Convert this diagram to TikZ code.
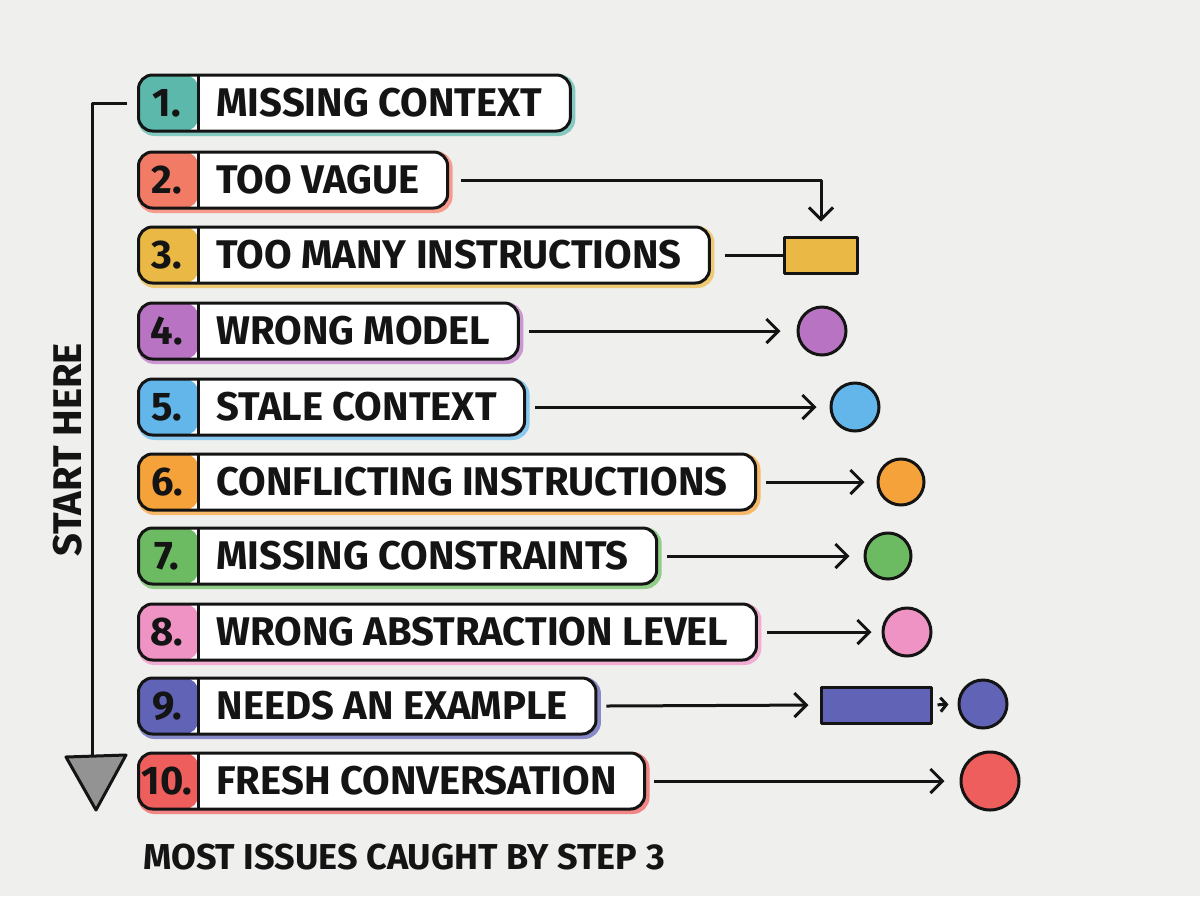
\documentclass[tikz,border=0pt]{standalone}
\usepackage{fontspec}
\setsansfont{Fira Sans}
\usepackage{xcolor}
\usepackage{tikz}
\usetikzlibrary{arrows.meta,positioning}

\definecolor{paper}{HTML}{EFEFED}
\definecolor{ink}{HTML}{141414}
\definecolor{cTeal}{HTML}{5DB8AC}
\definecolor{cSalmon}{HTML}{F27B66}
\definecolor{cMustard}{HTML}{E9B845}
\definecolor{cPurple}{HTML}{B874C2}
\definecolor{cSky}{HTML}{62B6EA}
\definecolor{cOrange}{HTML}{F5A23A}
\definecolor{cGreen}{HTML}{6CBB62}
\definecolor{cPink}{HTML}{EE93C3}
\definecolor{cIndigo}{HTML}{6163B6}
\definecolor{cRed}{HTML}{EE5E5C}

\newcommand{\rowfont}{\sffamily\bfseries\fontsize{20}{24}\selectfont}
\newcommand{\notefont}{\sffamily\bfseries\fontsize{18}{22}\selectfont}

\tikzset{
  issue/.style={draw=ink, line width=1.5pt, rounded corners=7pt, fill=white,
    anchor=west, minimum height=28pt, inner xsep=14pt, inner ysep=0pt,
    font=\rowfont, text=ink,
    preaction={draw=#1!75, line width=3pt, transform canvas={shift={(1pt,-1pt)}}},
    path picture={
      \fill[#1] (path picture bounding box.south west) rectangle ([xshift=30pt]path picture bounding box.north west);
      \draw[ink,line width=1.2pt] ([xshift=30pt]path picture bounding box.south west) -- ([xshift=30pt]path picture bounding box.north west);
    }},
  num/.style={font=\rowfont, text=ink, inner sep=0pt},
  dot/.style={circle, draw=ink, line width=1.5pt, fill=#1, inner sep=0pt},
  slab/.style={rectangle, draw=ink, line width=1.5pt, fill=#1, inner sep=0pt},
  conn/.style={draw=ink, line width=1.5pt},
}

\begin{document}
\begin{tikzpicture}[x=0.5pt,y=-0.5pt,>={Straight Barb[length=6pt,width=12pt]},line join=round]
  \fill[paper] (0,0) rectangle (1200,896);
  \useasboundingbox (0,0) rectangle (1200,896);

  % issue boxes
  \node[issue=cTeal] (b1) at (137,103) {\hspace*{25pt}MISSING CONTEXT};
  \node[issue=cSalmon] (b2) at (137,180) {\hspace*{25pt}TOO VAGUE};
  \node[issue=cMustard] (b3) at (137,255) {\hspace*{25pt}TOO MANY INSTRUCTIONS};
  \node[issue=cPurple] (b4) at (137,331) {\hspace*{25pt}WRONG MODEL};
  \node[issue=cSky] (b5) at (137,407) {\hspace*{25pt}STALE CONTEXT};
  \node[issue=cOrange] (b6) at (137,482) {\hspace*{25pt}CONFLICTING INSTRUCTIONS};
  \node[issue=cGreen] (b7) at (137,556) {\hspace*{25pt}MISSING CONSTRAINTS};
  \node[issue=cPink] (b8) at (137,632) {\hspace*{25pt}WRONG ABSTRACTION LEVEL};
  \node[issue=cIndigo] (b9) at (137,706) {\hspace*{25pt}NEEDS AN EXAMPLE};
  \node[issue=cRed] (b10) at (137,781) {\hspace*{25pt}FRESH CONVERSATION};

  \node[num] (k1) at ([xshift=15pt]b1.west) {1.};
  \node[num] (k2) at ([xshift=15pt]b2.west) {2.};
  \node[num] (k3) at ([xshift=15pt]b3.west) {3.};
  \node[num] (k4) at ([xshift=15pt]b4.west) {4.};
  \node[num] (k5) at ([xshift=15pt]b5.west) {5.};
  \node[num] (k6) at ([xshift=15pt]b6.west) {6.};
  \node[num] (k7) at ([xshift=15pt]b7.west) {7.};
  \node[num] (k8) at ([xshift=15pt]b8.west) {8.};
  \node[num] (k9) at ([xshift=15pt]b9.west) {9.};
  \node[num] (k10) at ([xshift=15pt]b10.west) {10.};

  % targets
  \node[slab=cMustard, minimum width=36.5pt, minimum height=18pt] (r3) at (821,255) {};
  \node[dot=cPurple, minimum size=24pt] (c4) at (822,331) {};
  \node[dot=cSky, minimum size=24pt] (c5) at (855,407) {};
  \node[dot=cOrange, minimum size=23pt] (c6) at (901,482) {};
  \node[dot=cGreen, minimum size=23pt] (c7) at (888,556) {};
  \node[dot=cPink, minimum size=24pt] (c8) at (907,632) {};
  \node[slab=cIndigo, minimum width=55pt, minimum height=18pt] (r9) at (876,705) {};
  \node[dot=cIndigo, minimum size=24pt] (c9) at (983,704) {};
  \node[dot=cRed, minimum size=29pt] (c10) at (990,781) {};

  % connectors
  \draw[conn,->,shorten >=7pt] ([xshift=6pt]b2.east) -| (r3.north);
  \draw[conn] ([xshift=7pt]b3.east) -- (r3.west);
  \draw[conn,->,shorten >=8pt] ([xshift=4.5pt]b4.east) -- (c4.west);
  \draw[conn,->,shorten >=6.5pt] ([xshift=4.5pt]b5.east) -- (c5.west);
  \draw[conn,->,shorten >=6pt] ([xshift=4.5pt]b6.east) -- (c6.west);
  \draw[conn,->,shorten >=7pt] ([xshift=4.5pt]b7.east) -- (c7.west);
  \draw[conn,->,shorten >=5pt] ([xshift=4.5pt]b8.east) -- (c8.west);
  \draw[conn,->,shorten >=5.5pt] ([xshift=4.5pt]b9.east) -- (r9.west);
  \draw[conn,-{Straight Barb[length=3pt,width=7pt]},shorten <=2.5pt,shorten >=4.5pt] (r9.east) -- (c9.west);
  \draw[conn,->,shorten >=7.5pt] ([xshift=4pt]b10.east) -- (c10.west);

  % start marker
  \coordinate (tip) at (92,757);
  \draw[conn] ([xshift=-5pt]b1.west) -| (tip);
  \filldraw[fill=gray!85!white, draw=ink, line width=1.5pt] (66,757) -- (126,755) -- (96,810) -- cycle;
  \node[font=\rowfont, text=ink, rotate=90] (start) at (68,450) {START HERE};

  \node[font=\notefont, text=ink] (note) at (404,857) {MOST ISSUES CAUGHT BY STEP 3};
\end{tikzpicture}
\end{document}
